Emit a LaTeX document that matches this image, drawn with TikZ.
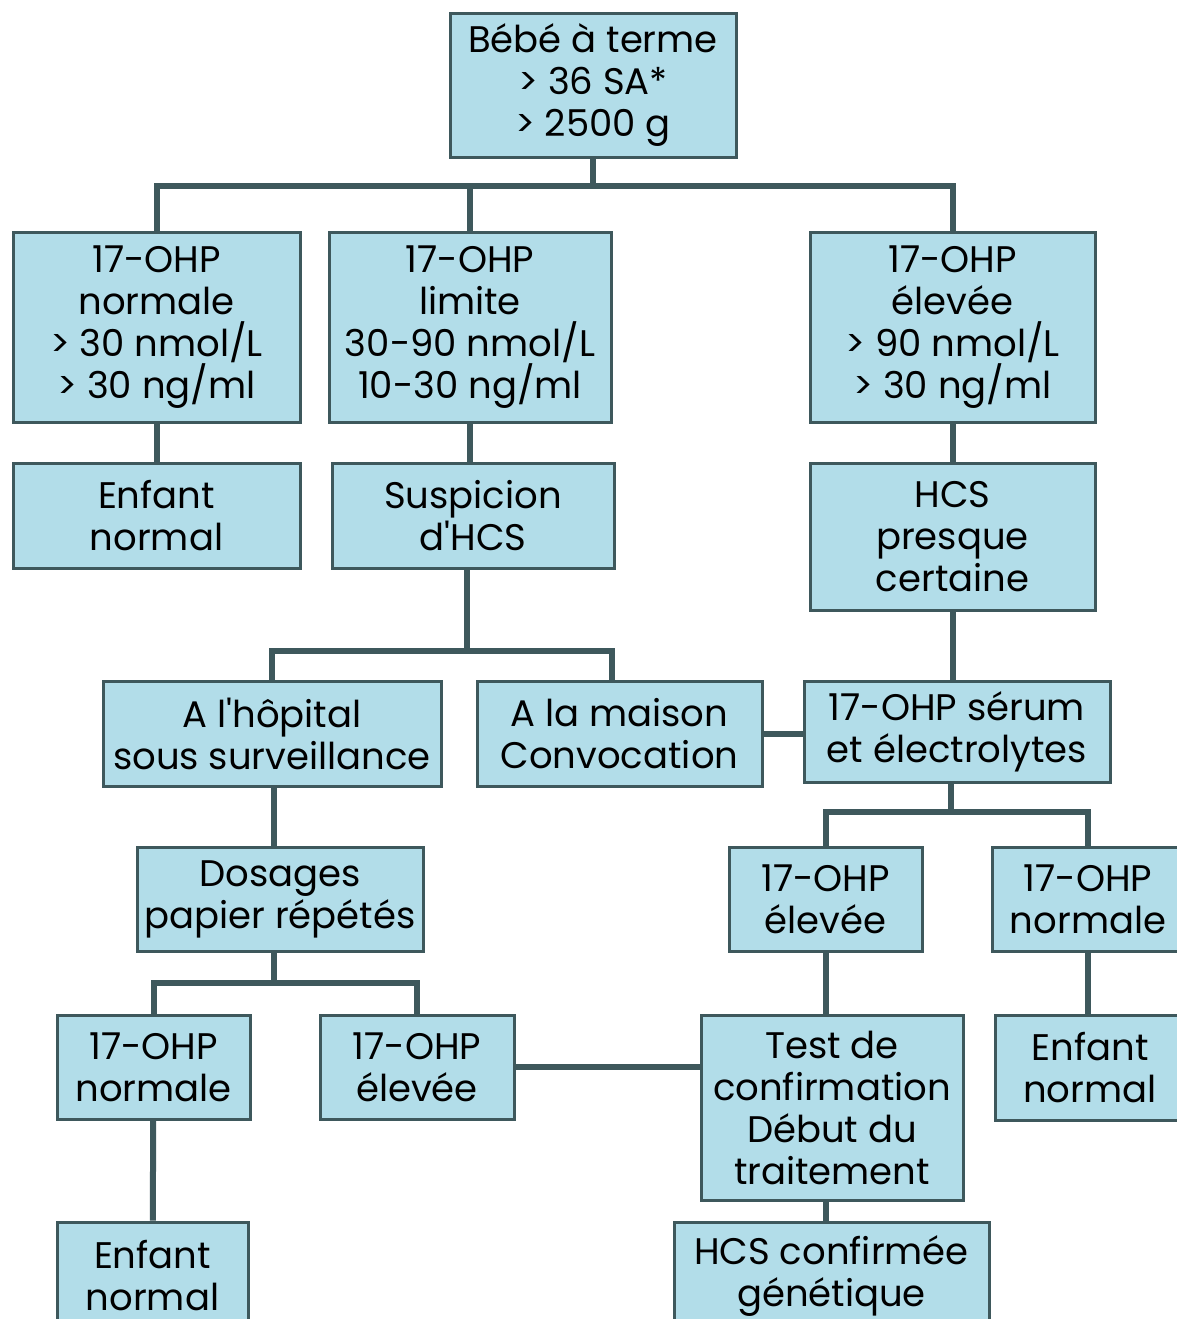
\documentclass[tikz,border=0pt]{standalone}
\usepackage{fontspec}
\setmainfont{Poppins}
\definecolor{boxfill}{RGB}{178,221,233}
\definecolor{edge}{RGB}{62,88,92}

\begin{document}
\begin{tikzpicture}[x=0.5pt,y=-0.5pt,
  box/.style={draw=edge,fill=boxfill,line width=1.5pt,align=center,inner sep=0pt,font=\fontsize{18.5}{21}\selectfont},
  link/.style={draw=edge,line width=3pt}]
\useasboundingbox (0,0) rectangle (1177,1319);
\clip (0,0) rectangle (1177,1319);

\node [box,minimum width=143pt,minimum height=72pt] (bebe) at (593,85) {Bébé à terme\\> 36 SA*\\> 2500 g};

\node [box,minimum width=143.5pt,minimum height=95pt] (normale) at (156.5,327) {17-OHP\\normale\\> 30 nmol/L\\> 30 ng/ml};
\node [box,minimum width=141pt,minimum height=95pt] (limite) at (470,327) {17-OHP\\limite\\30-90 nmol/L\\10-30 ng/ml};
\node [box,minimum width=142.5pt,minimum height=95pt] (elevee) at (952.5,327) {17-OHP\\élevée\\> 90 nmol/L\\> 30 ng/ml};

\node [box,minimum width=143.5pt,minimum height=52.5pt] (enfantA) at (156.5,515.5) {Enfant\\normal};
\node [box,minimum width=141pt,minimum height=52.5pt] (suspicion) at (473,515.5) {Suspicion\\d\textquotesingle HCS};
\node [box,minimum width=142.5pt,minimum height=73.5pt] (presque) at (952.5,536.5) {HCS\\presque\\certaine};

\node [box,minimum width=169pt,minimum height=52.5pt] (hopital) at (272,733.5) {A l\textquotesingle hôpital\\sous surveillance};
\node [box,minimum width=142.5pt,minimum height=52.5pt] (maison) at (619.5,733.5) {A la maison\\Convocation};
\node [box,minimum width=153pt,minimum height=50.5pt] (serum) at (957,731.5) {17-OHP sérum\\et électrolytes};

\node [box,minimum width=143pt,minimum height=52pt] (dosages) at (280,899) {Dosages\\papier répétés};
\node [box,minimum width=96.5pt,minimum height=52pt] (eleveeB) at (825.5,899) {17-OHP\\élevée};
\node [box,minimum width=96pt,minimum height=52pt] (normaleB) at (1088,899) {17-OHP\\normale};

\node [box,minimum width=96.5pt,minimum height=52pt] (normaleC) at (153.5,1067) {17-OHP\\normale};
\node [box,minimum width=97pt,minimum height=52pt] (eleveeC) at (417,1067) {17-OHP\\élevée};
\node [box,minimum width=131pt,minimum height=92.5pt] (test) at (832,1107.5) {Test de\\confirmation\\Début du\\traitement};
\node [box,minimum width=95pt,minimum height=52.5pt] (enfantB) at (1090,1067.5) {Enfant\\normal};

\node [box,minimum width=95.5pt,minimum height=54pt] (enfantC) at (152.5,1276) {Enfant\\normal};
\node [box,minimum width=157.5pt,minimum height=54pt] (confirmee) at (831.5,1276) {HCS confirmée\\génétique};

\coordinate (j1) at (593,186);
\coordinate (j2) at (467,651);
\coordinate (j3) at (951,812);
\coordinate (j4) at (274,983);
\coordinate (k2) at (612,651);

\draw [link] (bebe) -- (j1);
\draw [link] (normale.north) |- (j1) -| (elevee.north);
\draw [link] (j1 -| limite.north) -- (limite.north);
\draw [link] (normale) -- (enfantA);
\draw [link] (limite.south) -- (limite.south |- suspicion.north);
\draw [link] (elevee) -- (presque);

\draw [link] (suspicion.south -| j2) -- (j2);
\draw [link] (hopital.north) |- (j2) -- (k2) -- (k2 |- maison.north);
\draw [link] (maison.east) -- (maison.east -| serum.west);
\draw [link] (presque) -- (serum.north -| presque);

\draw [link] (serum.south -| j3) -- (j3);
\draw [link] (eleveeB.north) |- (j3) -| (normaleB.north);
\draw [link] (hopital.south -| j4) -- (j4 |- dosages.north);

\draw [link] (dosages.south -| j4) -- (j4);
\draw [link] (normaleC.north) |- (j4) -| (eleveeC.north);
\draw [link] (normaleC) -- (enfantC);
\draw [link] (eleveeC) -- (eleveeC -| test.west);
\draw [link] (eleveeB) -- (eleveeB |- test.north);
\draw [link] (normaleB) -- (normaleB |- enfantB.north);
\draw [link] (test.south -| eleveeB) -- (eleveeB |- confirmee.north);

\end{tikzpicture}
\end{document}
